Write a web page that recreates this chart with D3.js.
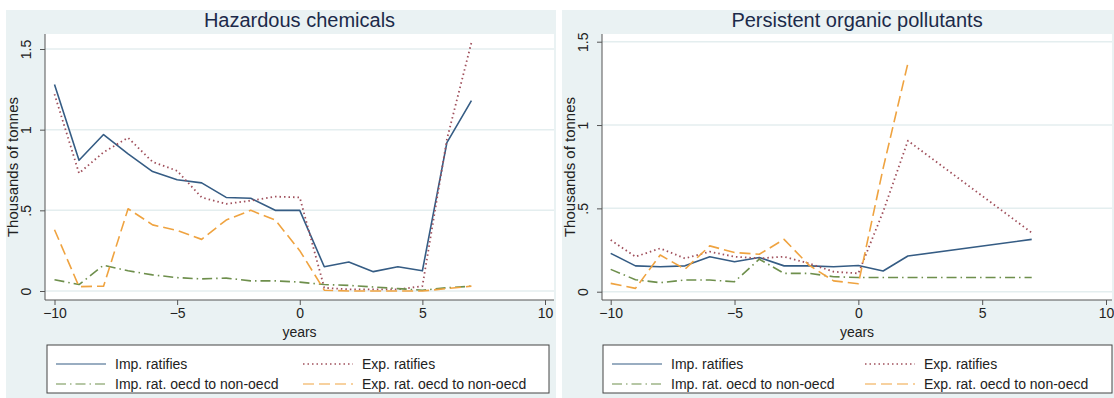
<!DOCTYPE html>
<html><head><meta charset="utf-8">
<script src="https://cdn.jsdelivr.net/npm/d3@7"></script>
<style>
html,body{margin:0;padding:0;background:#fff;}
svg{display:block;font-family:"Liberation Sans",Arial,Helvetica,sans-serif;}
</style></head>
<body><svg id="chart" width="1114" height="398"></svg>
<script>
// ---- data ----
const seriesNames = ["Imp. ratifies","Exp. ratifies","Imp. rat. oecd to non-oecd","Exp. rat. oecd to non-oecd"];
const xTicks = [-10,-5,0,5,10];
const yTicks = [0,0.5,1,1.5];
const yTickLabels = ["0",".5","1","1.5"];

// Hazardous chemicals
const hazYears = [-10,-9,-8,-7,-6,-5,-4,-3,-2,-1,0,1,2,3,4,5,6,7];
const hazImp      = [1.28,0.81,0.97,0.85,0.74,0.69,0.67,0.58,0.575,0.50,0.50,0.15,0.18,0.12,0.15,0.125,0.92,1.18];
const hazExp      = [1.22,0.73,0.86,0.95,0.80,0.745,0.58,0.54,0.56,0.585,0.58,0.02,0.01,0.01,0.01,0.03,0.94,1.54];
const hazImpOecd  = [0.07,0.04,0.16,0.125,0.10,0.083,0.075,0.08,0.063,0.063,0.055,0.04,0.035,0.025,0.015,0.005,0.02,0.03];
const hazExpOecd  = [0.38,0.027,0.03,0.51,0.41,0.375,0.32,0.44,0.50,0.44,0.25,0.005,0.0,0.0,0.0,0.0,0.015,0.03];

// Persistent organic pollutants
const popYearsRat  = [-10,-9,-8,-7,-6,-5,-4,-3,-2,-1,0,1,2,7];
const popImp       = [0.23,0.155,0.15,0.155,0.21,0.18,0.205,0.155,0.155,0.15,0.157,0.124,0.214,0.314];
const popExp       = [0.31,0.21,0.26,0.20,0.24,0.21,0.20,0.21,0.17,0.12,0.11,0.48,0.906,0.354];
const popYearsImpO = [-10,-9,-8,-7,-6,-5,-4,-3,-2,-1,0,7];
const popImpOecd   = [0.134,0.072,0.054,0.07,0.07,0.06,0.195,0.11,0.11,0.09,0.085,0.085];
const popYearsExpO = [-10,-9,-8,-7,-6,-5,-4,-3,-2,-1,0,1,2];
const popExpOecd   = [0.05,0.02,0.22,0.135,0.275,0.235,0.225,0.314,0.16,0.065,0.048,0.74,1.37];

// ---- styles ----
const colors = ["#355c84","#a0505c","#6e8f4c","#efa340"];
const dashes = [null,"1.5,3","10,4,1.5,4","11,5"];
const widths = [1.6,1.8,1.6,1.6];

const svg = d3.select("#chart");

function panel(cfg){
  const g = svg.append("g");
  g.append("rect").attr("x",cfg.bx).attr("y",10).attr("width",cfg.bw).attr("height",388).attr("fill","#eaf2f3");
  g.append("text").attr("x",cfg.px0+(cfg.px1-cfg.px0)/2).attr("y",27).attr("text-anchor","middle")
    .attr("font-size",20).attr("fill","#1c2a4a").text(cfg.title);
  g.append("rect").attr("x",cfg.px0).attr("y",34).attr("width",cfg.px1-cfg.px0).attr("height",300-34).attr("fill","#fff");

  const x = d3.scaleLinear().domain([-10,10]).range([cfg.x10a,cfg.x10b]);
  const y = d3.scaleLinear().domain([0,1.5]).range([cfg.y0,cfg.y15]);

  g.append("g").selectAll("line").data(yTicks).join("line")
    .attr("x1",cfg.px0).attr("x2",cfg.px1).attr("y1",d=>y(d)).attr("y2",d=>y(d))
    .attr("stroke","#e4eeef").attr("stroke-width",1.5);

  const ya = g.append("g").attr("transform",`translate(${cfg.px0},0)`)
    .call(d3.axisLeft(y).tickValues(yTicks).tickSize(5).tickFormat((d,i)=>yTickLabels[i]));
  ya.select(".domain").attr("d",`M0,34V300`).attr("stroke","#555");
  ya.selectAll(".tick line").attr("stroke","#555");
  ya.selectAll(".tick text").attr("font-size",14).attr("fill","#222")
    .attr("transform","rotate(-90)").attr("x",0).attr("y",-14).attr("dy","0").attr("text-anchor","middle");
  g.append("text").attr("transform",`translate(${cfg.px0-27},${cfg.yTitleY}) rotate(-90)`)
    .attr("text-anchor","middle").attr("font-size",15).attr("fill","#222").text("Thousands of tonnes");

  const xa = g.append("g").attr("transform",`translate(0,300)`)
    .call(d3.axisBottom(x).tickValues(xTicks).tickSize(5).tickFormat(d3.format("d")));
  xa.select(".domain").attr("d",`M${cfg.px0},0H${cfg.px1}`).attr("stroke","#555");
  xa.selectAll(".tick line").attr("stroke","#555");
  xa.selectAll(".tick text").attr("font-size",14).attr("fill","#222").attr("y",8);
  g.append("text").attr("x",cfg.px0+(cfg.px1-cfg.px0)/2).attr("y",337).attr("text-anchor","middle")
    .attr("font-size",14).attr("fill","#222").text("years");

  const line = d3.line().x(d=>x(d[0])).y(d=>y(d[1]));
  cfg.series.forEach((s,i)=>{
    const pts = s.years.map((yr,j)=>[yr,s.vals[j]]);
    g.append("path").datum(pts).attr("d",line).attr("fill","none")
      .attr("stroke",colors[i]).attr("stroke-width",widths[i])
      .attr("stroke-dasharray",dashes[i]).attr("stroke-linejoin","round");
  });

  const lg = g.append("g");
  lg.append("rect").attr("x",cfg.lx0).attr("y",345).attr("width",cfg.lx1-cfg.lx0).attr("height",48)
    .attr("fill","#fff").attr("stroke","#444").attr("stroke-width",1);
  const cols = [cfg.lx0+9, cfg.lx0+cfg.lcol2];
  const rows = [364,384];
  seriesNames.forEach((nm,i)=>{
    const cx = cols[i%2], ry = rows[Math.floor(i/2)];
    lg.append("line").attr("x1",cx).attr("x2",cx+50).attr("y1",ry).attr("y2",ry)
      .attr("stroke",colors[i]).attr("stroke-width",widths[i]-0.4).attr("stroke-dasharray",dashes[i]);
    lg.append("text").attr("x",cx+59).attr("y",ry+5).attr("font-size",14).attr("fill","#222").text(nm);
  });
}

panel({title:"Hazardous chemicals", bx:6, bw:550, px0:45, px1:554,
  x10a:54.5, x10b:545, y0:291, y15:49, yTitleY:167, lx0:47, lx1:549, lcol2:256,
  series:[
    {years:hazYears, vals:hazImp},
    {years:hazYears, vals:hazExp},
    {years:hazYears, vals:hazImpOecd},
    {years:hazYears, vals:hazExpOecd}
  ]});

panel({title:"Persistent organic pollutants", bx:562, bw:552, px0:602, px1:1112,
  x10a:610.7, x10b:1106, y0:291.7, y15:41.7, yTitleY:167, lx0:603, lx1:1112, lcol2:262,
  series:[
    {years:popYearsRat, vals:popImp},
    {years:popYearsRat, vals:popExp},
    {years:popYearsImpO, vals:popImpOecd},
    {years:popYearsExpO, vals:popExpOecd}
  ]});
</script>
</body></html>
